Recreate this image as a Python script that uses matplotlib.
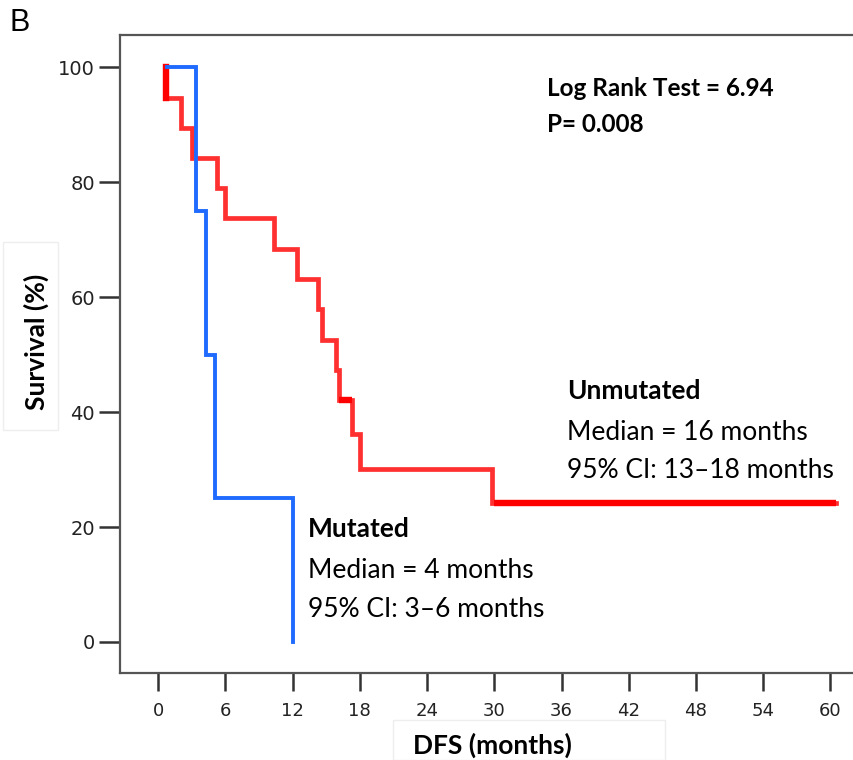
import matplotlib.pyplot as plt
from matplotlib.patches import Rectangle
import numpy as np

# Kaplan-Meier DFS data (months, % survival)
red_start = 0.7
red_times = [0.7, 2.0, 3.0, 5.3, 6.0, 10.3, 12.4, 14.3, 14.6, 15.9, 16.1, 17.3, 18.0, 29.8]
red_surv = [94.7, 89.5, 84.2, 78.9, 73.7, 68.4, 63.2, 57.9, 52.6, 47.4, 42.1, 36.1, 30.1, 24.1]
red_end = 60.5
# censored stretches (drawn heavier)
red_cens_a = [16.1, 17.3]
red_cens_b = [30.0, 60.5]

blue_start = 0.8
blue_times = [3.4, 4.3, 5.1, 12.0]
blue_surv = [75, 50, 25, 0]
blue_end = 12.0

xticks = [0, 6, 12, 18, 24, 30, 36, 42, 48, 54, 60]
yticks = [0, 20, 40, 60, 80, 100]

txt_font = ["Lato", "DejaVu Sans"]


def km_xy(start, times, surv, end):
    x = np.array([start] + times + [end])
    y = np.array([100] + surv + [surv[-1]])
    return x, y


fig = plt.figure(figsize=(8.54, 7.6), dpi=100)

# faint label frames, as in the original export
fig.patches.append(Rectangle((3 / 854, 1 - 430 / 760), 55 / 854, 188 / 760,
                             transform=fig.transFigure, fc="none", ec="#eeeeee", lw=1))
fig.patches.append(Rectangle((393 / 854, 0), 272 / 854, 40 / 760,
                             transform=fig.transFigure, fc="none", ec="#eeeeee", lw=1))

ax = fig.add_axes([120 / 854, 1 - 673 / 760, 1 - 120 / 854, (673 - 35) / 760])

x, y = km_xy(red_start, red_times, red_surv, red_end)
ax.step(x, y, where="post", color="#ff3030", lw=3.4, solid_joinstyle="miter")
ax.plot([red_start, red_start], [100, red_surv[0]], color="#ff0000", lw=4.6)
ax.plot(red_cens_a, [red_surv[10]] * 2, color="#ff0000", lw=4.6, solid_capstyle="butt")
ax.plot(red_cens_b, [red_surv[-1]] * 2, color="#ff0000", lw=4.6, solid_capstyle="butt")

x, y = km_xy(blue_start, blue_times, blue_surv, blue_end)
ax.step(x, y, where="post", color="#1f6bff", lw=2.8, solid_joinstyle="miter")

ax.set_xlim(-3.4, 62.1)
ax.set_ylim(-5.4, 105.6)
ax.set_xticks(xticks)
ax.set_yticks(yticks)
ax.set_xticklabels([str(t) for t in xticks], fontsize=13, color="#222222")
ax.set_yticklabels([str(t) for t in yticks], fontsize=14, color="#222222")
ax.tick_params(axis="x", length=13, width=1.8, color="#333333", pad=8)
ax.tick_params(axis="y", length=15, width=1.8, color="#333333", pad=3)
ax.spines["right"].set_visible(False)
for s in ["left", "top", "bottom"]:
    ax.spines[s].set_color("#555555")
    ax.spines[s].set_linewidth(1.6)

ax.text(34.7, 96.3, "Log Rank Test = 6.94", family=txt_font, fontsize=17.5,
        fontweight="bold", va="center", ha="left")
ax.text(34.7, 90.1, "P= 0.008", family=txt_font, fontsize=17.5,
        fontweight="bold", va="center", ha="left")

ax.text(36.5, 43.7, "Unmutated", family=txt_font, fontsize=19, fontweight="bold", va="center")
ax.text(36.5, 36.4, "Median = 16 months", family=txt_font, fontsize=19, va="center")
ax.text(36.5, 29.8, "95% CI: 13\u201318 months", family=txt_font, fontsize=19, va="center")

ax.text(13.4, 19.7, "Mutated", family=txt_font, fontsize=19, fontweight="bold", va="center")
ax.text(13.4, 12.4, "Median = 4 months", family=txt_font, fontsize=19, va="center")
ax.text(13.4, 5.7, "95% CI: 3\u20136 months", family=txt_font, fontsize=19, va="center")

fig.text(36 / 854, 1 - 342 / 760, "Survival (%)", family=txt_font, fontsize=19,
         fontweight="bold", rotation=90, ha="center", va="center")
fig.text(492 / 854, 1 - 745 / 760, "DFS (months)", family=txt_font, fontsize=19,
         fontweight="bold", ha="center", va="center")
fig.text(10 / 854, 1 - 8 / 760, "B", fontsize=22, ha="left", va="top",
         family=["Liberation Sans", "DejaVu Sans"])

plt.savefig("out.png", dpi=100)
